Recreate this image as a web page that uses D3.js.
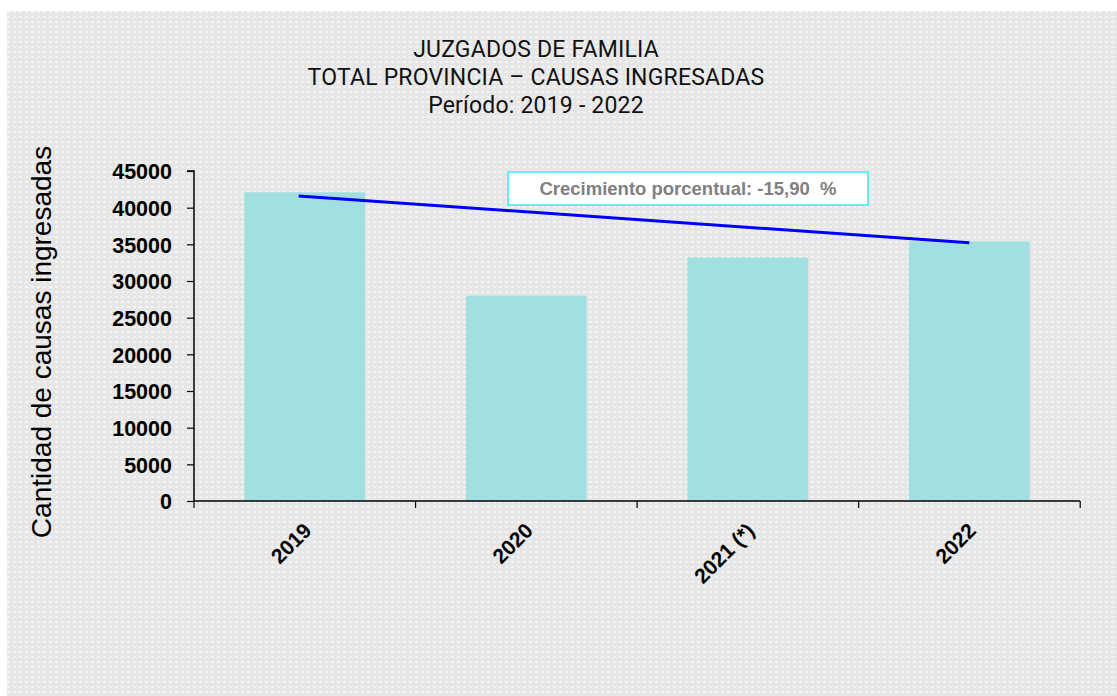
<!DOCTYPE html>
<html>
<head>
<meta charset="utf-8">
<script src="https://cdn.jsdelivr.net/npm/d3@7"></script>
<style>
  body { margin: 0; background: #fff; }
  svg { display: block; }
</style>
</head>
<body>
<div id="viz"></div>
<script>
const width = 1117;
const height = 696;
const margin = {top: 171, right: 37, bottom: 195, left: 194};

// data
const years = ['2019', '2020', '2021 (*)', '2022'];
const causas = [42100, 28000, 33200, 35400];
const trendValues = [41600, 35200]; // linea de tendencia 2019 -> 2022
const yTicks = [0, 5000, 10000, 15000, 20000, 25000, 30000, 35000, 40000, 45000];
const titleLines = ['JUZGADOS DE FAMILIA', 'TOTAL PROVINCIA – CAUSAS INGRESADAS', 'Período: 2019 - 2022'];
const noteText = 'Crecimiento porcentual: -15,90  %';
const yLabel = 'Cantidad de causas ingresadas';

const barColor = '#a2dfe0';

const svg = d3.select('#viz')
  .append('svg')
  .attr('width', width)
  .attr('height', height);

// background pattern
const defs = svg.append('defs');
const pat = defs.append('pattern')
  .attr('id', 'dots')
  .attr('width', 6)
  .attr('height', 5)
  .attr('patternUnits', 'userSpaceOnUse');
pat.append('rect').attr('width', 6).attr('height', 5).attr('fill', '#e6e6e6');
pat.append('rect').attr('x', 1).attr('y', 1).attr('width', 3).attr('height', 2).attr('fill', '#f3f3f3');

svg.append('rect')
  .attr('x', 7).attr('y', 11)
  .attr('width', width - 7).attr('height', height - 11)
  .attr('fill', 'url(#dots)');

// title
const titleY = [57, 85, 113];
svg.append('g')
  .selectAll('text')
  .data(titleLines)
  .join('text')
    .attr('x', 536)
    .attr('y', (d, i) => titleY[i])
    .attr('text-anchor', 'middle')
    .style('font-family', 'Roboto, "DejaVu Sans Condensed", sans-serif')
    .style('font-size', '23px')
    .style('letter-spacing', '0.2px')
    .style('fill', '#111')
    .text(d => d);

// scales
const xScale = d3.scaleBand()
  .domain(years)
  .range([margin.left, width - margin.right])
  .paddingInner(0.455)
  .paddingOuter(0.227);

const yScale = d3.scaleLinear()
  .domain([0, 45000])
  .range([height - margin.bottom, margin.top]);

// bars
svg.append('g')
  .selectAll('rect')
  .data(causas)
  .join('rect')
    .attr('x', (d, i) => xScale(years[i]))
    .attr('y', d => yScale(d))
    .attr('width', xScale.bandwidth())
    .attr('height', d => yScale(0) - yScale(d))
    .attr('fill', barColor);

// y axis
const yAxis = svg.append('g')
  .attr('transform', `translate(${margin.left}, 0)`)
  .call(d3.axisLeft(yScale).tickValues(yTicks).tickSize(7).tickPadding(15).tickFormat(d3.format('d')));
yAxis.selectAll('text')
  .attr('dy', '0.36em')
  .style('font-family', 'Arial, "Liberation Sans", sans-serif')
  .style('font-size', '21.5px')
  .style('font-weight', 'bold')
  .attr('fill', '#000');
yAxis.select('.domain').attr('stroke', '#000').attr('stroke-width', 1.5).attr('d', `M-7,${yScale(45000)}H0V${yScale(0)}`);
yAxis.selectAll('.tick line').attr('stroke', '#000').attr('stroke-width', 1.2);

// x axis
const xAxis = svg.append('g')
  .attr('transform', `translate(0, ${yScale(0)})`)
  .call(d3.axisBottom(xScale).tickSize(0).tickPadding(0));
xAxis.select('.domain').attr('stroke', '#000').attr('stroke-width', 1.5).attr('d', `M${margin.left},0H${width - margin.right}`);

// x tick marks on the band boundaries
const step = xScale.step();
const bounds = d3.range(years.length + 1).map(i => margin.left + i * step);
xAxis.append('g')
  .selectAll('line')
  .data(bounds)
  .join('line')
    .attr('x1', d => d).attr('x2', d => d)
    .attr('y1', 0).attr('y2', 7)
    .attr('stroke', '#000')
    .attr('stroke-width', 1.2);

xAxis.selectAll('.tick text')
  .attr('text-anchor', 'end')
  .attr('dy', 0)
  .attr('transform', 'translate(8, 31) rotate(-45)')
  .style('font-family', 'Arial, "Liberation Sans", sans-serif')
  .style('font-size', '21px')
  .style('font-weight', 'bold')
  .attr('fill', '#000');

// y label
svg.append('text')
  .attr('transform', `translate(51, ${(yScale(0) + yScale(45000)) / 2 + 6}) rotate(-90)`)
  .attr('text-anchor', 'middle')
  .style('font-family', 'Arial, "Liberation Sans", sans-serif')
  .style('font-size', '28px')
  .style('fill', '#000')
  .text(yLabel);

// trend line
const xCenter = label => xScale(label) + xScale.bandwidth() / 2;
const trendPts = [[xCenter(years[0]) - 6, trendValues[0]], [xCenter(years[years.length - 1]), trendValues[1]]];
svg.append('path')
  .attr('d', d3.line().x(d => d[0]).y(d => yScale(d[1]))(trendPts))
  .attr('stroke', '#0000ff')
  .attr('stroke-width', 3)
  .attr('fill', 'none');

// annotation box
const note = svg.append('g').attr('transform', 'translate(508, 172)');
note.append('rect')
  .attr('width', 360)
  .attr('height', 33)
  .attr('fill', '#fff')
  .attr('stroke', '#33eeee')
  .attr('stroke-width', 1.5);
note.append('text')
  .attr('x', 180)
  .attr('y', 23)
  .attr('text-anchor', 'middle')
  .style('font-family', 'Arial, "Liberation Sans", sans-serif')
  .style('font-size', '18.5px')
  .style('font-weight', 'bold')
  .style('fill', '#808080')
  .style('white-space', 'pre')
  .text(noteText);
</script>
</body>
</html>
